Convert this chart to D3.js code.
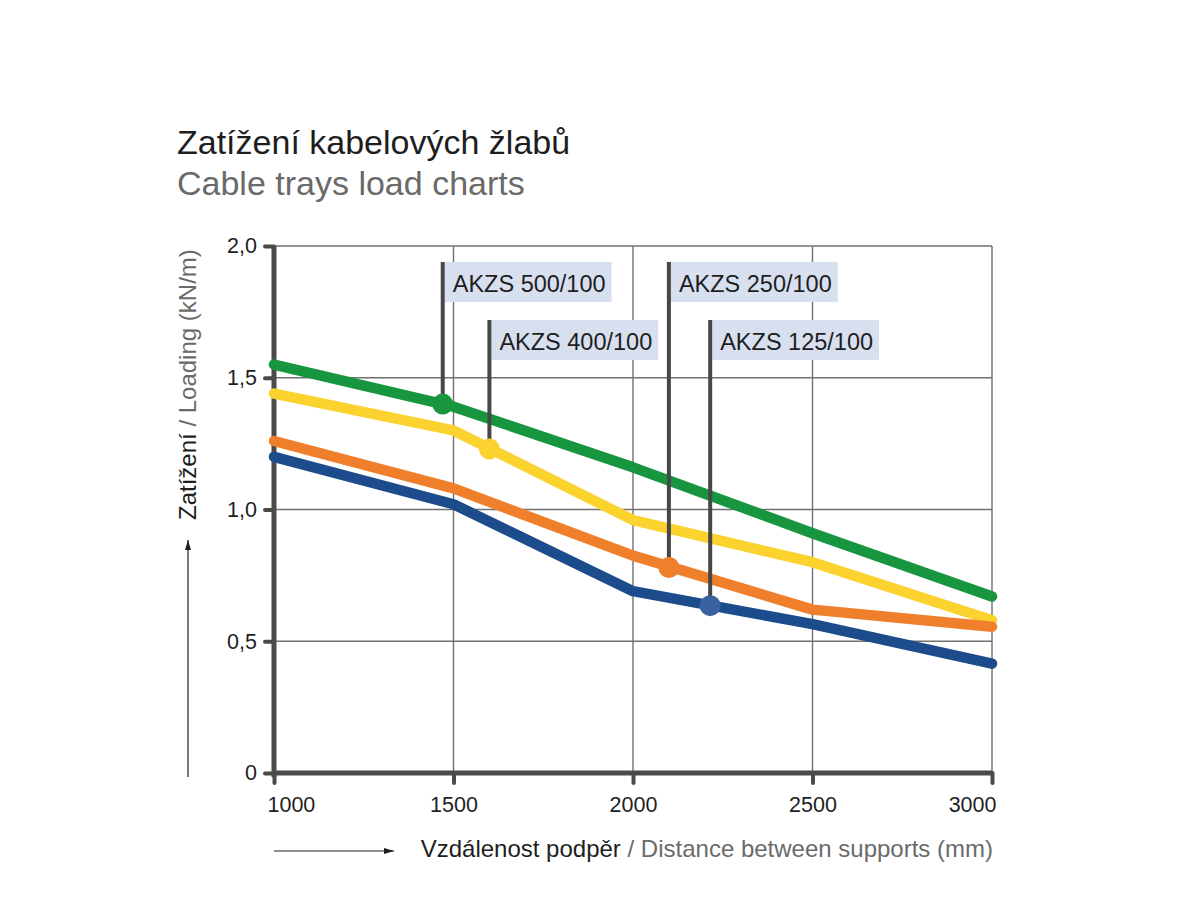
<!DOCTYPE html>
<html>
<head>
<meta charset="utf-8">
<script src="https://cdn.jsdelivr.net/npm/d3@7"></script>
<style>
  body { margin: 0; background: #fff; }
  svg text { font-family: "Liberation Sans", Arial, Helvetica, sans-serif; }
</style>
</head>
<body>
<div id="chart"></div>
<script>
// Supports distance (mm)
const distances = [1000, 1500, 2000, 2500, 3000];

// Load per series (kN/m)
const series = [
  { name: 'AKZS 400/100', color: '#fcd22f', values: [1.44, 1.30, 0.96, 0.80, 0.58] },
  { name: 'AKZS 250/100', color: '#f07f2c', values: [1.26, 1.08, 0.825, 0.62, 0.555] },
  { name: 'AKZS 125/100', color: '#1d4c8c', values: [1.20, 1.02, 0.69, 0.565, 0.415] },
  { name: 'AKZS 500/100', color: '#17963f', values: [1.55, 1.39, 1.16, 0.91, 0.67] }
];

// Label markers: where each tray's callout touches its line
const markerNames = ['AKZS 500/100', 'AKZS 400/100', 'AKZS 250/100', 'AKZS 125/100'];
const markerDistances = [1470, 1600, 2100, 2215];
const markerLoads = [1.40, 1.23, 0.78, 0.635];
const markerDotColors = ['#17963f', '#fcd22f', '#f07f2c', '#3a62a0'];

const yTicks = [0, 0.5, 1.0, 1.5, 2.0];
const yTickLabels = ['0', '0,5', '1,0', '1,5', '2,0'];

const width = 1200, height = 900;
const margin = { left: 274, right: 208, top: 246, bottom: 127 };

const svg = d3.select('#chart').append('svg')
  .attr('width', width)
  .attr('height', height);

const x = d3.scaleLinear().domain([1000, 3000]).range([margin.left, width - margin.right]);
const y = d3.scaleLinear().domain([0, 2]).range([height - margin.bottom, margin.top]);

const axisColor = '#4a4a4a';
const gridColor = '#707070';

// Titles
svg.append('text')
  .attr('x', 177).attr('y', 154)
  .attr('font-size', 34)
  .attr('fill', '#1e1e1e')
  .text('Zatížení kabelových žlabů');
svg.append('text')
  .attr('x', 177).attr('y', 195)
  .attr('font-size', 34)
  .attr('fill', '#6a6a6a')
  .text('Cable trays load charts');

// Grid
const grid = svg.append('g');
grid.selectAll('line.gx')
  .data(distances.slice(1))
  .join('line')
  .attr('x1', d => x(d)).attr('x2', d => x(d))
  .attr('y1', y(2)).attr('y2', y(0))
  .attr('stroke', gridColor).attr('stroke-width', 1.4);
grid.selectAll('line.gy')
  .data(yTicks.slice(1))
  .join('line')
  .attr('x1', x(1000)).attr('x2', x(3000))
  .attr('y1', d => y(d)).attr('y2', d => y(d))
  .attr('stroke', gridColor).attr('stroke-width', 1.4);

// Axes (thick)
const xAxis = d3.axisBottom(x)
  .tickValues(distances)
  .tickSize(10)
  .tickPadding(14)
  .tickFormat(d3.format('d'));
const gx = svg.append('g')
  .attr('transform', `translate(0,${y(0)})`)
  .call(xAxis);
gx.select('.domain').remove();
gx.selectAll('.tick line')
  .attr('stroke', axisColor).attr('stroke-width', 4).attr('stroke-linecap', 'round');
gx.selectAll('.tick text')
  .attr('font-size', 21.5)
  .attr('fill', '#1e1e1e')
  .attr('text-anchor', (d, i) => i === 0 ? 'start' : (i === distances.length - 1 ? 'end' : 'middle'))
  .attr('dx', (d, i) => i === 0 ? -7 : (i === distances.length - 1 ? 4 : 0));

const yAxis = d3.axisLeft(y)
  .tickValues(yTicks)
  .tickSize(9)
  .tickPadding(8)
  .tickFormat((d, i) => yTickLabels[i]);
const gy = svg.append('g')
  .attr('transform', `translate(${x(1000)},0)`)
  .call(yAxis);
gy.select('.domain').remove();
gy.selectAll('.tick line')
  .attr('stroke', axisColor).attr('stroke-width', 4).attr('stroke-linecap', 'round');
gy.selectAll('.tick text')
  .attr('font-size', 21.5)
  .attr('fill', '#1e1e1e');

svg.append('line')
  .attr('x1', x(1000)).attr('x2', x(1000))
  .attr('y1', y(2)).attr('y2', y(0) + 4)
  .attr('stroke', axisColor).attr('stroke-width', 5);
svg.append('line')
  .attr('x1', x(1000) - 2).attr('x2', x(3000))
  .attr('y1', y(0)).attr('y2', y(0))
  .attr('stroke', axisColor).attr('stroke-width', 5);

// Series lines
const line = d3.line()
  .x((d, i) => x(distances[i]))
  .y(d => y(d));

svg.append('g')
  .selectAll('path')
  .data(series)
  .join('path')
  .attr('d', d => line(d.values))
  .attr('fill', 'none')
  .attr('stroke', d => d.color)
  .attr('stroke-width', 10.5)
  .attr('stroke-linecap', 'round')
  .attr('stroke-linejoin', 'round');

// Callouts
const tierTops = [262, 320];
const markers = markerNames.map((name, i) => ({
  name, dist: markerDistances[i], load: markerLoads[i], dot: markerDotColors[i], top: tierTops[i % 2]
}));

const callout = svg.append('g')
  .selectAll('g')
  .data(markers)
  .join('g');

const labelBox = callout.append('rect')
  .attr('x', d => x(d.dist) + 2)
  .attr('y', d => d.top)
  .attr('height', 40)
  .attr('fill', '#d8e0f0');

const labelText = callout.append('text')
  .attr('x', d => x(d.dist) + 10)
  .attr('y', d => d.top + 30)
  .attr('font-size', 23.5)
  .attr('fill', '#1e1e1e')
  .text(d => d.name);

labelText.each(function(d) { d.tw = this.getComputedTextLength(); });
labelBox.attr('width', d => d.tw + 14);

callout.append('line')
  .attr('x1', d => x(d.dist)).attr('x2', d => x(d.dist))
  .attr('y1', d => d.top).attr('y2', d => y(d.load))
  .attr('stroke', '#474747').attr('stroke-width', 4);

callout.append('circle')
  .attr('cx', d => x(d.dist))
  .attr('cy', d => y(d.load))
  .attr('r', 10.5)
  .attr('fill', d => d.dot);

// Axis titles
const xt = svg.append('text')
  .attr('x', x(3000) + 1)
  .attr('y', 857)
  .attr('text-anchor', 'end')
  .attr('font-size', 24);
xt.append('tspan').attr('fill', '#1e1e1e').text('Vzdálenost podpěr');
xt.append('tspan').attr('fill', '#6a6a6a').text(' / Distance between supports (mm)');

const yt = svg.append('text')
  .attr('transform', 'translate(196,520) rotate(-90)')
  .attr('font-size', 24);
yt.append('tspan').attr('fill', '#1e1e1e').text('Zatížení');
yt.append('tspan').attr('fill', '#6a6a6a').text(' / Loading (kN/m)');

// Direction arrows
const defs = svg.append('defs');
defs.append('marker')
  .attr('id', 'arrow')
  .attr('viewBox', '0 0 10 10')
  .attr('refX', 10).attr('refY', 5)
  .attr('markerWidth', 10).attr('markerHeight', 10)
  .attr('markerUnits', 'userSpaceOnUse')
  .attr('orient', 'auto')
  .append('path')
  .attr('d', 'M0,2 L10,5 L0,8 Z')
  .attr('fill', '#1e1e1e');

svg.append('line')
  .attr('x1', 188).attr('x2', 188)
  .attr('y1', 777).attr('y2', 540)
  .attr('stroke', '#1e1e1e').attr('stroke-width', 1.2)
  .attr('marker-end', 'url(#arrow)');
svg.append('line')
  .attr('x1', 274).attr('x2', 394)
  .attr('y1', 851).attr('y2', 851)
  .attr('stroke', '#1e1e1e').attr('stroke-width', 1.2)
  .attr('marker-end', 'url(#arrow)');
</script>
</body>
</html>
